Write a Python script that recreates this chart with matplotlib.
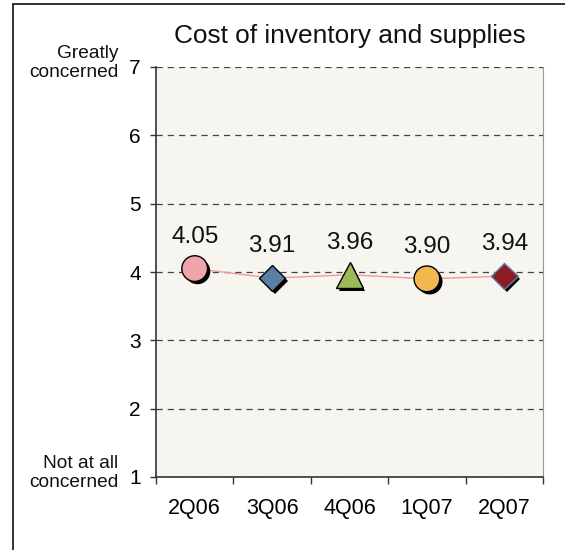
import matplotlib
matplotlib.use("Agg")
import matplotlib.pyplot as plt
import matplotlib.patheffects as pe
from matplotlib.patches import Rectangle

plt.rcParams['font.family'] = ['Liberation Sans', 'DejaVu Sans']

# Survey quarters and mean concern scores
quarters = ["2Q06", "3Q06", "4Q06", "1Q07", "2Q07"]
scores = [4.05, 3.91, 3.96, 3.90, 3.94]
marker_shapes = ["o", "D", "^", "o", "D"]
marker_faces = ["#f0a3a9", "#5b7ea6", "#9bbb59", "#f2b84f", "#8e1b21"]
marker_edges = ["#000000", "#000000", "#000000", "#000000", "#5b7ea6"]
marker_sizes = [18.5, 13.5, 19, 18.5, 13.5]
y_ticks = [1, 2, 3, 4, 5, 6, 7]

fig = plt.figure(figsize=(5.65, 5.5), dpi=100)
ax = fig.add_axes([156 / 565, 1 - 477 / 550, 387 / 565, 410 / 550])
ax.set_facecolor("#f6f5f0")

# outer frame (only left and top edges fall inside the canvas)
fig.patches.append(Rectangle((13 / 565, -0.1), 1.2, 1 - 4 / 550 + 0.1,
                             transform=fig.transFigure, fill=False,
                             edgecolor="#222222", linewidth=1.3))

x = list(range(len(quarters)))

# connecting line
ax.plot(x, scores, color="#f29a9a", linewidth=1.0, zorder=3)

shadow = [pe.SimplePatchShadow(offset=(2.0, -2.0), shadow_rgbFace="black", alpha=1.0),
          pe.Normal()]
for xi, yi, m, fc, ec, ms in zip(x, scores, marker_shapes, marker_faces,
                                 marker_edges, marker_sizes):
    ax.plot([xi], [yi], marker=m, markersize=ms, markerfacecolor=fc,
            markeredgecolor=ec, markeredgewidth=1.0, linestyle="none",
            zorder=4, path_effects=shadow)
    ax.annotate(f"{yi:.2f}", (xi, yi), xytext=(0, 23), textcoords="offset points",
                ha="center", va="center", fontsize=17.5, color="#111111")

ax.set_xlim(-0.5, len(quarters) - 0.5)
ax.set_ylim(1, 7)

# dashed horizontal gridlines
ax.set_yticks(y_ticks)
ax.yaxis.grid(True, linestyle=(0, (5, 4)), color="#444444", linewidth=0.9)
ax.set_axisbelow(True)
ax.tick_params(axis="y", direction="out", length=4.5, width=1, color="#333333",
               labelsize=15, pad=6.5)

ax.set_xticks(x)
ax.set_xticklabels(quarters)
ax.tick_params(axis="x", which="major", length=0, labelsize=15.5, pad=15)
ax.set_xticks([i - 0.5 for i in range(len(quarters) + 1)], minor=True)
ax.tick_params(axis="x", which="minor", direction="out", length=5, width=1,
               color="#333333")

for side in ("left", "bottom"):
    ax.spines[side].set_color("#333333")
    ax.spines[side].set_linewidth(1.2)
ax.spines["top"].set_visible(False)
ax.spines["right"].set_color("#999999")
ax.spines["right"].set_linewidth(0.8)

ax.set_title("Cost of inventory and supplies", fontsize=18.9, pad=17,
             color="#111111")

fig.text(118 / 565, 1 - 63 / 550, "Greatly\nconcerned", ha="right", va="center",
         fontsize=13.8, color="#111111")
fig.text(118 / 565, 1 - 473 / 550, "Not at all\nconcerned", ha="right", va="center",
         fontsize=13.8, color="#111111")

fig.savefig("out.png", dpi=100, facecolor="white")
